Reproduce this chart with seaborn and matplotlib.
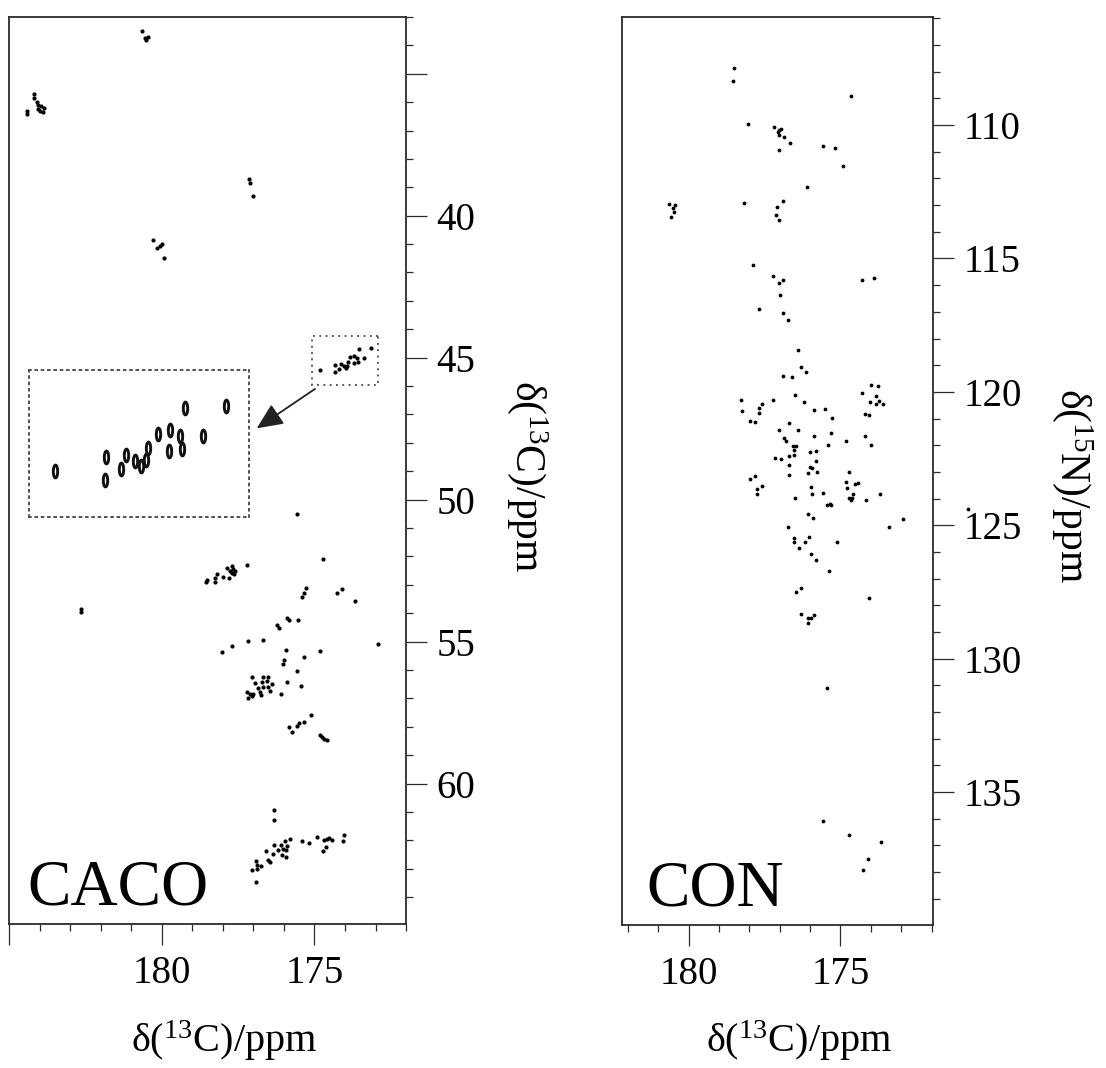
import numpy as np
import pandas as pd
import matplotlib
matplotlib.use("Agg")
import matplotlib.pyplot as plt
import seaborn as sns
from matplotlib.ticker import FixedLocator, FixedFormatter, MultipleLocator
from matplotlib.patches import Rectangle

# ---------------- data (ppm) ----------------
# CACO spectrum: 13C' (x) vs 13Ca (y)
caco_c = [180.65, 180.55, 180.45, 180.5,
          184.17, 184.17, 184.09, 184.05, 183.95, 183.85, 184.0, 183.9, 184.05, 184.42, 184.42,
          177.14, 177.12, 177.02,
          180.29, 180.16, 180.06, 179.98, 179.94,
          175.58, 174.73,
          178.55, 178.51, 178.25, 178.25, 178.18, 177.98, 177.85, 177.81, 177.76, 177.71, 177.66, 177.62, 177.69, 177.60, 177.22,
          175.28, 175.33, 175.41, 174.27, 174.09, 173.67,
          182.64, 182.64,
          176.24, 176.17, 175.89, 175.82, 175.55,
          178.04, 177.71, 177.17, 176.67, 175.94, 172.93, 174.82, 175.35, 176.0, 176.04, 175.56, 175.89, 175.44, 176.09,
          177.06, 176.67, 176.51, 176.94, 176.73, 176.56, 176.40, 176.86, 176.67, 176.51, 176.45, 177.22, 177.11, 177.00, 177.06, 177.16, 176.78, 176.75,
          175.10, 175.33, 175.49, 175.58, 175.82, 175.75, 174.82, 174.76, 174.69, 174.58,
          176.31, 176.31, 177.05, 176.91, 176.89, 176.87, 176.75, 176.91, 176.58, 176.52, 176.45, 176.37, 176.32, 176.18, 176.09, 176.04,
          175.96, 175.94, 175.89, 176.06, 175.94, 175.80, 175.40, 175.19, 174.93, 174.73, 174.63, 174.69, 174.60, 174.52, 174.41, 174.07, 174.03]
caco_ca = [33.49, 33.75, 33.70, 33.80,
           35.70, 35.85, 35.99, 36.10, 36.15, 36.20, 36.30, 36.35, 36.25, 36.30, 36.40,
           38.70, 38.85, 39.29,
           40.84, 41.12, 41.05, 40.99, 41.48,
           50.49, 52.08,
           52.90, 52.84, 52.75, 52.89, 52.61, 52.72, 52.42, 52.75, 52.51, 52.34, 52.45, 52.61, 52.57, 52.51, 52.31,
           53.10, 53.30, 53.43, 53.30, 53.16, 53.58,
           53.86, 53.95,
           54.43, 54.54, 54.18, 54.25, 54.23,
           55.36, 55.15, 54.98, 54.95, 55.31, 55.10, 55.34, 55.55, 55.65, 55.78, 56.04, 56.41, 56.56, 56.84,
           56.24, 56.25, 56.24, 56.45, 56.42, 56.39, 56.48, 56.63, 56.61, 56.60, 56.75, 56.77, 56.86, 56.84, 56.92, 56.98, 56.77, 56.90,
           57.59, 57.83, 57.86, 57.96, 58.01, 58.19, 58.28, 58.37, 58.42, 58.45,
           60.95, 61.30, 63.06, 62.72, 62.86, 63.00, 62.89, 63.48, 62.36, 62.71, 62.75, 62.47, 62.16, 62.33, 62.18, 62.30,
           62.04, 62.33, 62.21, 62.53, 62.60, 61.96, 62.01, 62.08, 61.90, 62.39, 62.22, 61.98, 61.94, 61.92, 61.98, 62.01, 61.83]

# Glycine region shown enlarged in the inset
gly_c = [174.82, 174.33, 174.32, 174.18, 174.13, 174.04, 173.98, 173.93, 173.91,
         173.82, 173.71, 173.70, 173.60, 173.58, 173.55, 173.38, 173.15]
gly_ca = [45.42, 45.52, 45.26, 45.40, 45.24, 45.30, 45.36, 45.29, 45.15,
          44.99, 45.19, 44.94, 45.02, 45.17, 44.69, 45.02, 44.67]
zoom_c = [175.07, 172.93]
zoom_ca = [44.25, 45.95]

# CON spectrum: 13C' (x) vs 15N (y)
con_c = [178.52, 178.55, 174.66, 178.04, 177.18, 177.02, 176.96, 177.07, 177.04, 176.86, 176.66, 177.04, 175.57, 175.17, 174.91, 176.10,
         180.64, 180.47, 180.53, 180.50, 180.58, 178.18, 176.91, 177.09, 177.13, 177.02,
         177.87, 177.22, 177.04, 176.91, 176.99, 174.29, 173.91,
         177.70, 176.88, 176.72, 176.39, 176.31, 176.14, 176.90, 176.59, 176.50, 176.21,
         178.27, 178.23, 177.97, 177.82, 177.68, 177.59, 177.69, 177.22,
         175.87, 175.52, 175.28,
         174.29, 174.00, 173.77, 173.84, 174.04, 173.74, 173.60, 173.83, 174.18, 174.07,
         176.71, 177.04, 176.39, 176.86, 176.80, 175.87, 175.31, 175.40, 176.58, 176.45, 176.53, 176.54, 176.71, 176.95, 177.17, 175.99, 175.80, 174.81, 174.19, 174.01,
         175.82, 175.99, 175.95, 176.69, 176.06, 175.76, 176.71, 177.81, 177.97, 177.75, 177.60, 177.75, 175.97, 175.94, 176.50, 175.57, 175.46, 175.34, 175.30,
         174.71, 174.81, 174.53, 174.43, 174.78, 174.58, 174.72, 174.65, 174.62, 174.16, 173.71,
         176.07, 175.90, 176.73, 173.41, 172.93, 170.80,
         176.52, 176.53, 176.36, 176.18, 176.04, 175.11, 175.97, 175.80, 175.38, 176.31, 176.47, 174.06,
         176.31, 176.06, 175.98, 175.87, 176.06, 175.45,
         175.57, 174.71, 173.65, 174.09, 174.27]
con_n = [107.88, 108.35, 108.92, 109.96, 110.06, 110.17, 110.15, 110.27, 110.38, 110.46, 110.66, 110.93, 110.77, 110.86, 111.52, 112.33,
         112.96, 112.98, 113.10, 113.25, 113.46, 112.93, 112.84, 113.07, 113.38, 113.54,
         115.25, 115.67, 115.91, 115.80, 116.36, 115.82, 115.73,
         116.91, 117.04, 117.30, 118.43, 119.06, 119.26, 119.41, 119.46, 120.11, 120.39,
         120.30, 120.72, 121.09, 121.13, 120.60, 120.47, 120.81, 120.30,
         120.67, 120.66, 120.99,
         120.04, 119.76, 119.77, 120.16, 120.39, 120.34, 120.47, 120.47, 120.82, 120.88,
         121.18, 121.42, 121.42, 121.74, 121.85, 121.64, 121.54, 121.99, 122.03, 122.02, 122.19, 122.37, 122.39, 122.53, 122.49, 122.27, 122.23, 121.84, 121.66, 122.00,
         122.59, 122.80, 122.87, 122.75, 123.04, 123.00, 123.12, 123.15, 123.27, 123.64, 123.53, 123.82, 123.57, 123.83, 123.98, 123.80, 124.24, 124.19, 124.24,
         123.00, 123.37, 123.47, 123.40, 123.61, 123.82, 123.98, 124.04, 123.99, 124.04, 123.84,
         124.59, 124.74, 125.05, 125.05, 124.76, 124.40,
         125.49, 125.61, 125.86, 125.61, 125.45, 125.61, 126.09, 126.31, 126.71, 127.34, 127.49, 127.71,
         128.31, 128.48, 128.46, 128.37, 128.65, 131.10,
         136.07, 136.61, 136.86, 137.49, 137.91]

caco_yticks = [35, 40, 45, 50, 55, 60]
caco_ylabels = ["", "40", "45", "50", "55", "60"]
caco_xticks = [185, 180, 175]
caco_xlabels = ["", "180", "175"]
con_yticks = [110, 115, 120, 125, 130, 135]
con_ylabels = ["110", "115", "120", "125", "130", "135"]
con_xticks = [180, 175]
con_xlabels = ["180", "175"]

# ---------------- style ----------------
sns.set_style("white")
plt.rcParams["font.family"] = ["Liberation Serif", "DejaVu Serif"]
plt.rcParams["mathtext.fontset"] = "custom"
plt.rcParams["mathtext.rm"] = "Liberation Serif"
plt.rcParams["mathtext.default"] = "regular"

EDGE = "#2b2b2b"
fig = plt.figure(figsize=(11.06, 10.68), dpi=100)
ax1 = fig.add_axes([0.00814, 0.1348, 0.3590, 0.8493])
ax2 = fig.add_axes([0.5624, 0.1339, 0.2812, 0.8502])

df_caco = pd.DataFrame({"c": caco_c + gly_c, "ca": caco_ca + gly_ca})
df_con = pd.DataFrame({"c": con_c, "n": con_n})
sns.scatterplot(data=df_caco, x="c", y="ca", ax=ax1, color="black", s=9, linewidth=0, marker="o")
sns.scatterplot(data=df_con, x="c", y="n", ax=ax2, color="black", s=7.5, linewidth=0, marker="o", clip_on=False)

def style_axis(ax, xlim, ylim, xt, xl, yt, yl):
    ax.set_xlim(*xlim)
    ax.set_ylim(*ylim)
    ax.xaxis.set_major_locator(FixedLocator(xt))
    ax.xaxis.set_major_formatter(FixedFormatter(xl))
    ax.yaxis.set_major_locator(FixedLocator(yt))
    ax.yaxis.set_major_formatter(FixedFormatter(yl))
    ax.xaxis.set_minor_locator(MultipleLocator(1))
    ax.yaxis.set_minor_locator(MultipleLocator(1))
    ax.yaxis.tick_right()
    for side in ["left", "right", "top", "bottom"]:
        ax.spines[side].set_visible(True)
        ax.spines[side].set_color(EDGE)
        ax.spines[side].set_linewidth(1.3)
    ax.tick_params(axis="x", which="both", bottom=True, top=False, direction="out",
                   color=EDGE, width=0.9, labelsize=28, pad=7, labelcolor="black")
    ax.tick_params(axis="y", which="both", left=False, right=True, labelleft=False, labelright=True,
                   direction="out", color=EDGE, width=0.9, labelsize=28, pad=7, labelcolor="black")
    ax.tick_params(which="major", length=15)
    ax.tick_params(which="minor", length=5)
    ax.set_facecolor("white")

style_axis(ax1, (185, 172), (64.95, 33.0), caco_xticks, caco_xlabels, caco_yticks, caco_ylabels)
style_axis(ax2, (182.2, 171.95), (139.98, 105.95), con_xticks, con_xlabels, con_yticks, con_ylabels)

lab13 = "δ($^{13}$C)/ppm"
lab15 = "δ($^{15}$N)/ppm"
for ax, lab, xc, yc in [(ax1, lab13, 0.5416, -0.104), (ax2, lab13, 0.569, -0.1035)]:
    ax.set_xlabel(lab, fontsize=29, color="black")
    ax.xaxis.set_label_coords(xc, yc)
ax1.yaxis.set_label_position("right")
ax1.set_ylabel(lab13, fontsize=30, rotation=270, va="center", ha="center", color="black")
ax1.yaxis.set_label_coords(1.305, 0.494)
ax2.yaxis.set_label_position("right")
ax2.set_ylabel(lab15, fontsize=30, rotation=270, va="center", ha="center", color="black")
ax2.yaxis.set_label_coords(1.450, 0.4846)

ax1.text(0.046, 0.021, "CACO", transform=ax1.transAxes, fontsize=47, ha="left", va="baseline", color="black")
ax2.text(0.078, 0.022, "CON", transform=ax2.transAxes, fontsize=47, ha="left", va="baseline", color="black")

# small dotted box around the glycine region and the arrow
dots = (0, (1, 2.5))
ax1.add_patch(Rectangle((min(zoom_c), min(zoom_ca)), max(zoom_c) - min(zoom_c), max(zoom_ca) - min(zoom_ca),
                        fill=False, ls=dots, lw=1.3, ec="#444444"))
ax1.annotate("", xy=(176.89, 47.49), xytext=(174.98, 46.10),
             arrowprops=dict(arrowstyle="-|>,head_length=0.8,head_width=0.36", mutation_scale=20,
                             color="#222222", lw=1.3, shrinkA=0, shrinkB=0))

# inset with enlarged contours
axin = fig.add_axes([0.0265, 0.5162, 0.1986, 0.1374])
axin.set_xlim(max(zoom_c), min(zoom_c))
axin.set_ylim(max(zoom_ca), min(zoom_ca))
axin.set_xticks([])
axin.set_yticks([])
for side in ["left", "right", "top", "bottom"]:
    axin.spines[side].set_visible(True)
    axin.spines[side].set_linestyle(dots)
    axin.spines[side].set_linewidth(1.3)
    axin.spines[side].set_color("#444444")
axin.set_facecolor("white")
theta = np.linspace(0, 2 * np.pi, 41)
ell = np.column_stack([0.34 * np.cos(theta), np.sin(theta)])
df_gly = pd.DataFrame({"c": gly_c, "ca": gly_ca})
sns.scatterplot(data=df_gly, x="c", y="ca", ax=axin, marker=ell, s=85, color="white",
                edgecolor="#111111", linewidth=2.1)
axin.set_xlabel("")
axin.set_ylabel("")

fig.savefig("out.png", dpi=100, facecolor="white")
